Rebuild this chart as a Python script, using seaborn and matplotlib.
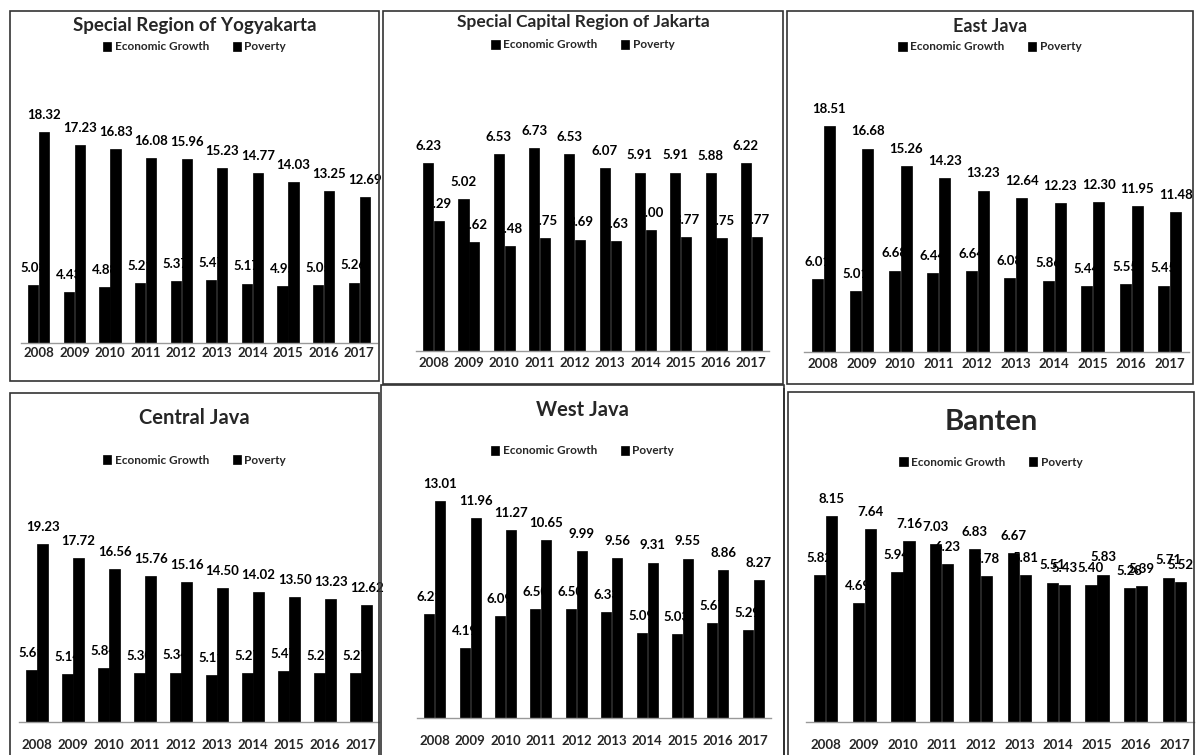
import matplotlib.pyplot as plt
import matplotlib.patches as mpatches
import pandas as pd
import seaborn as sns

years = ['2008', '2009', '2010', '2011', '2012', '2013', '2014', '2015', '2016', '2017']
series_names = ['Economic Growth', 'Poverty']

yogya_growth = [5.03, 4.43, 4.88, 5.21, 5.37, 5.47, 5.17, 4.95, 5.05, 5.26]
yogya_poverty = [18.32, 17.23, 16.83, 16.08, 15.96, 15.23, 14.77, 14.03, 13.25, 12.69]
jakarta_growth = [6.23, 5.02, 6.53, 6.73, 6.53, 6.07, 5.91, 5.91, 5.88, 6.22]
jakarta_poverty = [4.29, 3.62, 3.48, 3.75, 3.69, 3.63, 4.00, 3.77, 3.75, 3.77]
east_growth = [6.01, 5.01, 6.68, 6.44, 6.64, 6.08, 5.86, 5.44, 5.55, 5.45]
east_poverty = [18.51, 16.68, 15.26, 14.23, 13.23, 12.64, 12.23, 12.30, 11.95, 11.48]
central_growth = [5.61, 5.14, 5.84, 5.30, 5.34, 5.11, 5.27, 5.47, 5.25, 5.27]
central_poverty = [19.23, 17.72, 16.56, 15.76, 15.16, 14.50, 14.02, 13.50, 13.23, 12.62]
west_growth = [6.21, 4.19, 6.09, 6.50, 6.50, 6.33, 5.09, 5.03, 5.67, 5.29]
west_poverty = [13.01, 11.96, 11.27, 10.65, 9.99, 9.56, 9.31, 9.55, 8.86, 8.27]
banten_growth = [5.82, 4.69, 5.94, 7.03, 6.83, 6.67, 5.51, 5.40, 5.28, 5.71]
banten_poverty = [8.15, 7.64, 7.16, 6.23, 5.78, 5.81, 5.43, 5.83, 5.39, 5.52]

titles = ['Special Region of Yogyakarta', 'Special Capital Region of Jakarta', 'East Java',
          'Central Java', 'West Java', 'Banten']
growth_all = [yogya_growth, jakarta_growth, east_growth, central_growth, west_growth, banten_growth]
poverty_all = [yogya_poverty, jakarta_poverty, east_poverty, central_poverty, west_poverty, banten_poverty]

# layout in pixels: frame (l, t, r, b), axes x-range, baseline y, px per unit, axes top,
# title y, title size, legend y, tick pad
layout = [
    ((10, 11, 379, 381), (21, 377), 343, 11.5, 100, 25, 13.5, 47, 3),
    ((383, 11, 783, 384), (416, 769), 351, 30.2, 100, 22, 12.5, 45, 4),
    ((787, 11, 1193, 384), (804, 1189), 352, 12.2, 100, 27, 13, 47, 4),
    ((10, 393, 379, 760), (19, 379), 722, 9.26, 480, 418, 14.5, 460, 12),
    ((381, 385, 784, 760), (417, 771), 718, 16.7, 470, 410, 14.5, 451, 12),
    ((788, 392, 1194, 760), (806, 1194), 722, 25.3, 480, 422, 21, 462, 12),
]

W, H = 1197, 755

sns.set_style('white')
plt.rcParams['font.family'] = ['Lato', 'DejaVu Sans']
plt.rcParams['font.weight'] = 'bold'

fig = plt.figure(figsize=(W / 100, H / 100), dpi=100)
fig.patch.set_facecolor('white')

for i in range(6):
    (fl, ft, fr, fb), (al, ar), base, scale, top, ty, tsize, ly, tpad = layout[i]

    df = pd.DataFrame({
        'Year': years * 2,
        'Series': [series_names[0]] * 10 + [series_names[1]] * 10,
        'Value': growth_all[i] + poverty_all[i],
    })

    ax = fig.add_axes([al / W, 1 - base / H, (ar - al) / W, (base - top) / H])
    ax.set_facecolor('none')
    sns.barplot(data=df, x='Year', y='Value', hue='Series', hue_order=series_names,
                palette=['black', 'black'], width=0.62, gap=0.08, ax=ax,
                edgecolor='black', linewidth=0.5, zorder=2)
    ax.set_ylim(0, (base - top) / scale)
    ax.set_xlim(-0.5, 9.5)

    # data labels sit behind the bars so neighbours cover them, as in the original
    for cont in ax.containers:
        ax.bar_label(cont, fmt='%.2f', padding=8, fontsize=9.5, fontweight='bold',
                     zorder=0.5, color='black')

    ax.set_xlabel('')
    ax.set_ylabel('')
    ax.set_yticks([])
    ax.tick_params(axis='x', length=0, pad=tpad, labelsize=9.5)
    for lbl in ax.get_xticklabels():
        lbl.set_fontweight('bold')
    for s in ['left', 'right', 'top']:
        ax.spines[s].set_visible(False)
    ax.spines['bottom'].set_color('#999999')
    ax.spines['bottom'].set_linewidth(1)
    ax.spines['bottom'].set_zorder(3)

    cx = (fl + fr) / 2
    sns.move_legend(ax, 'center', bbox_to_anchor=(cx / W, 1 - ly / H),
                    bbox_transform=fig.transFigure, ncol=2, frameon=False, title=None,
                    fontsize=8.5, handlelength=0.7, handleheight=0.7, handletextpad=0.3,
                    columnspacing=2.0)
    for t in ax.get_legend().get_texts():
        t.set_fontweight('bold')

    fig.text(cx / W, 1 - ty / H, titles[i], ha='center', va='center',
             fontsize=tsize, fontweight='bold')

    fig.patches.append(mpatches.Rectangle((fl / W, 1 - fb / H), (fr - fl) / W, (fb - ft) / H,
                                          transform=fig.transFigure, fill=False,
                                          edgecolor='#333333', linewidth=1.2))

# Banten frame has a doubled left edge
fig.patches.append(mpatches.Rectangle((784 / W, 1 - 760 / H), 0, (760 - 388) / H,
                                      transform=fig.transFigure, fill=False,
                                      edgecolor='#333333', linewidth=1.2))

fig.savefig('out.png', dpi=100)
